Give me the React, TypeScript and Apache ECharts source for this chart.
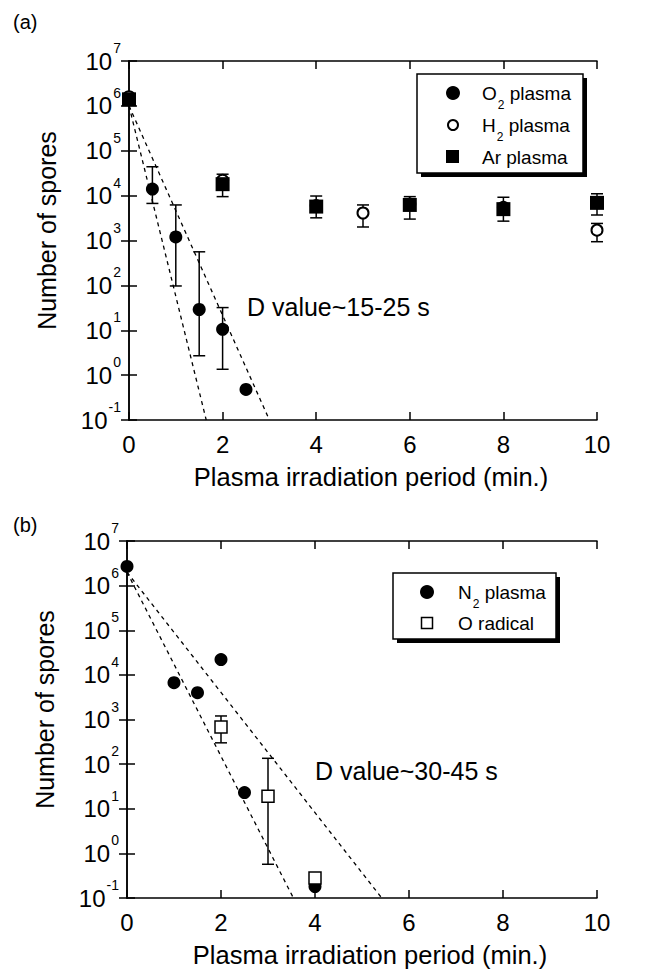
import React, { useEffect, useRef } from "react";
import * as echarts from "echarts";

// ---------- data (a) ----------
const o2Plasma = [[0, 1.5e6], [0.5, 1.4e4], [1, 1.2e3], [1.5, 29], [2, 10.5], [2.5, 0.48]];
const o2Err = [[0.5, 6.7e3, 4.4e4], [1, 97, 6.2e3], [1.5, 2.7, 560], [2, 1.35, 32]];
const h2Plasma = [[0, 1.6e6], [2, 2.2e4], [4, 6e3], [5, 4.1e3], [6, 6.5e3], [8, 5.5e3], [10, 1.7e3]];
const h2Err = [[5, 2.0e3, 6.2e3], [10, 940, 2.4e3]];
const arPlasma = [[0, 1.4e6], [2, 1.8e4], [4, 5.7e3], [6, 6.2e3], [8, 5.0e3], [10, 6.9e3]];
const arErr = [[2, 9.5e3, 3e4], [4, 3.2e3, 9.8e3], [6, 3.0e3, 9.5e3], [8, 2.7e3, 9.2e3], [10, 3.7e3, 1.1e4]];
const fitA1 = [[0, 1e6], [1.65, 0.1]];
const fitA2 = [[0, 1e6], [3.0, 0.1]];

// ---------- data (b) ----------
const n2Plasma = [[0, 2.7e6], [1, 6.7e3], [1.5, 4.0e3], [2, 2.2e4], [2.5, 23], [4, 0.18]];
const oRadical = [[2, 680], [3, 19], [4, 0.28]];
const oRadicalErr = [[2, 300, 1.2e3], [3, 0.57, 135]];
const fitB1 = [[0, 2e6], [3.54, 0.1]];
const fitB2 = [[0, 2e6], [5.42, 0.1]];

// ---------- axes / text ----------
const xMin = 0;
const xMax = 10;
const xInterval = 2;
const yMin = 0.1;
const yMax = 1e7;
const xName = "Plasma irradiation period (min.)";
const yName = "Number of spores";
const dTextA = "D value~15-25 s";
const dTextB = "D value~30-45 s";

const FONT = "'Liberation Sans', Arial, Helvetica, sans-serif";

const errRender = (params: any, api: any) => {
  const x = api.value(0);
  const lo = api.coord([x, api.value(1)]);
  const hi = api.coord([x, api.value(2)]);
  const w = 6;
  const st = { stroke: "#000", lineWidth: 1.5 };
  return {
    type: "group",
    children: [
      { type: "line", shape: { x1: lo[0], y1: lo[1], x2: hi[0], y2: hi[1] }, style: st },
      { type: "line", shape: { x1: hi[0] - w, y1: hi[1], x2: hi[0] + w, y2: hi[1] }, style: st },
      { type: "line", shape: { x1: lo[0] - w, y1: lo[1], x2: lo[0] + w, y2: lo[1] }, style: st },
    ],
  };
};

const axisLine = { show: true, lineStyle: { color: "#000", width: 1.5 } };
const axisTick = { show: true, inside: true, length: 8, lineStyle: { color: "#000", width: 1.5 } };

function xAxes(grid: number) {
  return [
    {
      type: "value", gridIndex: grid, min: xMin, max: xMax, interval: xInterval, position: "bottom",
      axisLine, axisTick, splitLine: { show: false },
      axisLabel: { color: "#000", fontSize: 24, fontFamily: FONT, margin: 12 },
      name: xName, nameLocation: "middle", nameGap: 44,
      nameTextStyle: { color: "#000", fontSize: 25.5, fontFamily: FONT, padding: [0, 0, 0, 16] },
    },
    {
      type: "value", gridIndex: grid, min: xMin, max: xMax, interval: xInterval, position: "top",
      axisLine, axisTick, splitLine: { show: false }, axisLabel: { show: false },
    },
  ];
}

function yAxes(grid: number) {
  return [
    {
      type: "log", logBase: 10, gridIndex: grid, min: yMin, max: yMax, position: "left",
      axisLine, axisTick, splitLine: { show: false }, minorTick: { show: false },
      axisLabel: {
        color: "#000", fontSize: 24, fontFamily: FONT, margin: 8,
        formatter: (v: number) => "10{sup|" + Math.round(Math.log10(v)) + "}",
        rich: {
          sup: { fontSize: 14, fontFamily: FONT, color: "#000", padding: [0, 0, 26, 1], verticalAlign: "middle" },
        },
      },
      name: yName, nameLocation: "middle", nameGap: 70,
      nameTextStyle: { color: "#000", fontSize: 25, fontFamily: FONT, padding: [0, 0, 0, 20] },
    },
    {
      type: "log", logBase: 10, gridIndex: grid, min: yMin, max: yMax, position: "right",
      axisLine, axisTick, splitLine: { show: false }, axisLabel: { show: false },
    },
  ];
}

function fitLine(data: number[][], xi: number, yi: number) {
  return {
    type: "line", data, xAxisIndex: xi, yAxisIndex: yi, showSymbol: false, symbol: "none",
    lineStyle: { color: "#000", width: 1.3, type: [4, 4] }, z: 1, silent: true,
  };
}

function errSeries(data: number[][], xi: number, yi: number) {
  return {
    type: "custom", data, xAxisIndex: xi, yAxisIndex: yi, renderItem: errRender,
    encode: { x: 0, y: [1, 2] }, z: 1, silent: true,
  };
}

function legendBox(x: number, y: number, w: number, h: number) {
  return [
    { type: "rect", shape: { x: x + 4, y: y + 4, width: w, height: h }, style: { fill: "#000" }, z: 10 },
    { type: "rect", shape: { x, y, width: w, height: h }, style: { fill: "#fff", stroke: "#000", lineWidth: 1.5 }, z: 11 },
  ];
}

function legendText(x: number, y: number, text: string) {
  return {
    type: "text", x, y, z: 12,
    style: {
      text, fill: "#000", fontSize: 19, fontFamily: FONT,
      textAlign: "left", textVerticalAlign: "middle",
      rich: { sub: { fontSize: 12, fontFamily: FONT, fill: "#000", padding: [24, 0, 0, 1], verticalAlign: "middle" } },
    },
  };
}

export default function App() {
  const ref = useRef<HTMLDivElement>(null);
  useEffect(() => {
    document.body.style.margin = "0";
    if (!ref.current) return;
    const chart = echarts.init(ref.current, undefined, { renderer: "svg" });
    const solid = (color: string, extra: any = {}) => ({ color, opacity: 1, ...extra });
    const option: any = {
      animation: false,
      backgroundColor: "#fff",
      grid: [
        { left: 129, top: 61, width: 468, height: 359 },
        { left: 127, top: 541, width: 470, height: 357 },
      ],
      xAxis: [...xAxes(0), ...xAxes(1)],
      yAxis: [...yAxes(0), ...yAxes(1)],
      series: [
        fitLine(fitA1, 0, 0),
        fitLine(fitA2, 0, 0),
        errSeries(o2Err, 0, 0),
        errSeries(h2Err, 0, 0),
        errSeries(arErr, 0, 0),
        { name: "O2 plasma", type: "scatter", data: o2Plasma, xAxisIndex: 0, yAxisIndex: 0, symbol: "circle", symbolSize: 13, itemStyle: solid("#000"), z: 2 },
        { name: "H2 plasma", type: "scatter", data: h2Plasma, xAxisIndex: 0, yAxisIndex: 0, symbol: "circle", symbolSize: 11, itemStyle: solid("#fff", { borderColor: "#000", borderWidth: 2 }), z: 3 },
        { name: "Ar plasma", type: "scatter", data: arPlasma, xAxisIndex: 0, yAxisIndex: 0, symbol: "rect", symbolSize: 14, itemStyle: solid("#000"), z: 4 },

        fitLine(fitB1, 2, 2),
        fitLine(fitB2, 2, 2),
        errSeries(oRadicalErr, 2, 2),
        { name: "N2 plasma", type: "scatter", data: n2Plasma, xAxisIndex: 2, yAxisIndex: 2, symbol: "circle", symbolSize: 13, itemStyle: solid("#000"), z: 2 },
        { name: "O radical", type: "scatter", data: oRadical, xAxisIndex: 2, yAxisIndex: 2, symbol: "rect", symbolSize: 12, itemStyle: solid("#fff", { borderColor: "#000", borderWidth: 1.5 }), z: 3 },
      ],
      graphic: [
        { type: "text", x: 13, y: 22, style: { text: "(a)", fill: "#000", fontSize: 20, fontFamily: FONT, textAlign: "left", textVerticalAlign: "middle" } },
        { type: "text", x: 13, y: 525, style: { text: "(b)", fill: "#000", fontSize: 20, fontFamily: FONT, textAlign: "left", textVerticalAlign: "middle" } },
        { type: "text", x: 247, y: 307, z: 5, style: { text: dTextA, fill: "#000", fontSize: 25, fontFamily: FONT, textAlign: "left", textVerticalAlign: "middle" } },
        { type: "text", x: 315, y: 771, z: 5, style: { text: dTextB, fill: "#000", fontSize: 25, fontFamily: FONT, textAlign: "left", textVerticalAlign: "middle" } },

        ...legendBox(417, 74, 166, 99),
        { type: "circle", shape: { cx: 453, cy: 93, r: 7 }, style: { fill: "#000" }, z: 12 },
        { type: "circle", shape: { cx: 453, cy: 125, r: 5 }, style: { fill: "#fff", stroke: "#000", lineWidth: 2 }, z: 12 },
        { type: "rect", shape: { x: 446, y: 150, width: 13, height: 13 }, style: { fill: "#000" }, z: 12 },
        legendText(482, 93, "O{sub|2} plasma"),
        legendText(482, 125, "H{sub|2} plasma"),
        legendText(482, 157, "Ar plasma"),

        ...legendBox(393, 573, 163, 66),
        { type: "circle", shape: { cx: 427, cy: 592, r: 7 }, style: { fill: "#000" }, z: 12 },
        { type: "rect", shape: { x: 421.5, y: 617.5, width: 11, height: 11 }, style: { fill: "#fff", stroke: "#000", lineWidth: 1.5 }, z: 12 },
        legendText(458, 592, "N{sub|2} plasma"),
        legendText(458, 623, "O radical"),
      ],
    };
    chart.setOption(option);
    return () => chart.dispose();
  }, []);
  return <div ref={ref} style={{ width: 651, height: 972 }} />;
}
